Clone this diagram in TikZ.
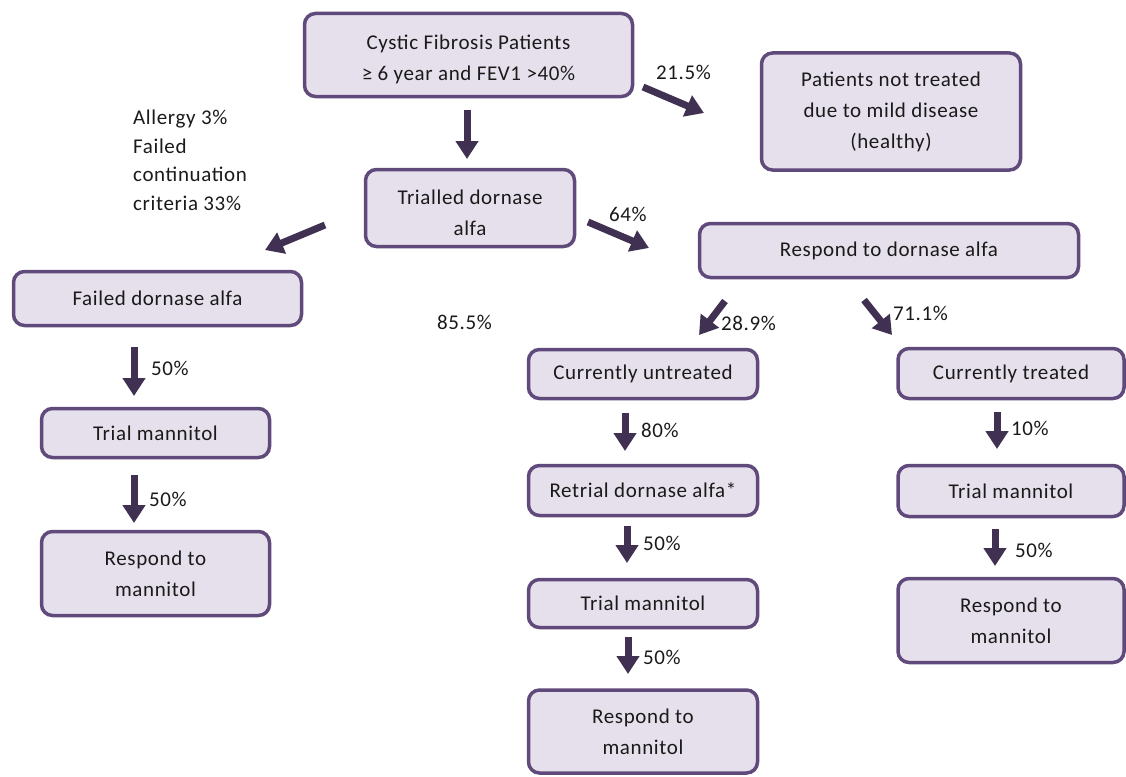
\documentclass[tikz,border=0pt]{standalone}
\usepackage{fontspec}
\setmainfont{Carlito}[LetterSpace=3]
\usetikzlibrary{arrows.meta}
\definecolor{boxfill}{HTML}{E6E0EC}
\definecolor{boxline}{HTML}{604A7B}
\definecolor{arrcol}{HTML}{403152}
\definecolor{textcol}{HTML}{1A1A1A}
\tikzset{
  box/.style={draw=boxline, fill=boxfill, line width=3.5pt, rounded corners=11pt,
    align=center, inner sep=0pt, text=textcol, font=\fontsize{21}{31}\selectfont},
  boxtext/.style={align=center, inner sep=0pt, text=textcol, font=\fontsize{21}{31}\selectfont},
  arr/.style={draw=arrcol, line width=7pt, -{Triangle[length=18pt,width=22pt]}},
  lbl/.style={inner sep=0pt, anchor=west, text=textcol, font=\fontsize{21}{28.5}\selectfont}
}
\begin{document}
\begin{tikzpicture}[x=1pt,y=-1pt]
\useasboundingbox (0,0) rectangle (1126,776);
% boxes
\node[box, minimum width=328pt, minimum height=83pt] (cf) at (468.5,55) {};
\node[boxtext] (cft) at (468.5,59.5) {Cystic Fibrosis Patients\\≥ 6 year and FEV1 >40\%};
\node[box, minimum width=259pt, minimum height=117pt] (pnt) at (891,111.5) {Patients not treated\\due to mild disease\\(healthy)};
\node[box, minimum width=209pt, minimum height=77pt] (tda) at (470,208) {};
\node[boxtext] (tdat) at (470,212.5) {Trialled dornase\\alfa};
\node[box, minimum width=379pt, minimum height=54pt] (rda) at (889,250.5) {Respond to dornase alfa};
\node[box, minimum width=288pt, minimum height=54pt] (fda) at (157.5,298.5) {Failed dornase alfa};
\node[box, minimum width=228pt, minimum height=49pt] (tml) at (155.5,433) {Trial mannitol};
\node[box, minimum width=228pt, minimum height=84pt] (rml) at (155.5,573.5) {Respond to\\mannitol};
\node[box, minimum width=229pt, minimum height=49pt] (cu) at (643,374) {Currently untreated};
\node[box, minimum width=229pt, minimum height=50pt] (rtd) at (643,490.5) {Retrial dornase alfa*};
\node[box, minimum width=229pt, minimum height=48pt] (tmm) at (643,603.5) {Trial mannitol};
\node[box, minimum width=229pt, minimum height=83pt] (rmm) at (643,731.5) {Respond to\\mannitol};
\node[box, minimum width=226pt, minimum height=50pt] (ct) at (1011,373.5) {Currently treated};
\node[box, minimum width=226pt, minimum height=51pt] (tmr) at (1011,491) {Trial mannitol};
\node[box, minimum width=226pt, minimum height=84pt] (rmr) at (1011,620.5) {Respond to\\mannitol};
% arrow end points
\coordinate (a1s) at (467,110); \coordinate (a1e) at (467,159);
\coordinate (a2s) at (643,87); \coordinate (a2e) at (704,113);
\coordinate (a3s) at (325,225); \coordinate (a3e) at (265,250);
\coordinate (a4s) at (588,222); \coordinate (a4e) at (649,248);
\coordinate (a5s) at (725,301); \coordinate (a5e) at (699,335);
\coordinate (a6s) at (864,300); \coordinate (a6e) at (892,335);
\coordinate (a7s) at (134,347); \coordinate (a7e) at (134,396);
\coordinate (a8s) at (134,475); \coordinate (a8e) at (134,523);
\coordinate (a9s) at (625,413); \coordinate (a9e) at (625,451);
\coordinate (a10s) at (627,526); \coordinate (a10e) at (627,563);
\coordinate (a11s) at (628,637); \coordinate (a11e) at (628,674);
\coordinate (a12s) at (997,412); \coordinate (a12e) at (997,449);
\coordinate (a13s) at (995,529); \coordinate (a13e) at (995,566);
\foreach \i in {1,...,13} {\draw[arr] (a\i s) -- (a\i e);}
% labels
\node[lbl] (l1) at (656,72) {21.5\%};
\node[lbl] (l2) at (609,214) {64\%};
\node[lbl] (l3) at (721,323) {28.9\%};
\node[lbl] (l4) at (893,313) {71.1\%};
\node[lbl] (l5) at (437,322) {85.5\%};
\node[lbl] (l6) at (151,368) {50\%};
\node[lbl] (l7) at (149,499) {50\%};
\node[lbl] (l8) at (641,430) {80\%};
\node[lbl] (l9) at (643,543) {50\%};
\node[lbl] (l10) at (643,657) {50\%};
\node[lbl] (l11) at (1011,428) {10\%};
\node[lbl] (l12) at (1015,550) {50\%};
\node[lbl, align=left] (l13) at (133,160.5) {Allergy 3\%\\Failed\\continuation\\criteria 33\%};
\end{tikzpicture}
\end{document}
